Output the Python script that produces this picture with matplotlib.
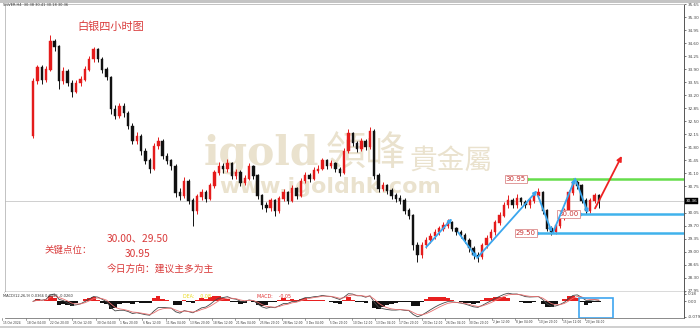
import numpy as np
import matplotlib
matplotlib.use('Agg')
import matplotlib.pyplot as plt
from matplotlib.patches import Rectangle
from matplotlib.transforms import blended_transform_factory

# ---------------- data (12H candles) ----------------
opens = [32.10, 33.57, 33.94, 33.62, 33.89, 34.64, 34.50, 33.57, 33.84, 33.52,
         33.30, 33.52, 33.62, 33.89, 34.16, 34.42, 34.16, 33.89, 33.68, 32.82,
         32.64, 32.90, 32.72, 32.37, 31.97, 32.10, 31.70, 31.44, 31.22, 31.84,
         31.97, 31.57, 31.44, 31.30, 30.58, 30.50, 30.90, 30.37, 30.10, 30.48,
         30.58, 30.42, 30.77, 31.12, 31.30, 31.22, 31.38, 31.04, 31.12, 30.85,
         30.96, 31.28, 31.04, 30.50, 30.24, 30.16, 30.37, 30.10, 30.42, 30.58,
         30.37, 30.69, 30.50, 30.90, 31.04, 30.96, 31.17, 31.22, 31.44, 31.30,
         31.38, 31.22, 31.12, 31.70, 32.18, 31.92, 31.76, 31.97, 31.81, 32.24,
         31.04, 30.69, 30.77, 30.64, 30.50, 30.42, 30.37, 30.10, 29.97, 29.17,
         28.90, 29.17, 29.30, 29.41, 29.52, 29.62, 29.70, 29.78, 29.62, 29.52,
         29.44, 29.30, 29.09, 28.90, 28.85, 29.17, 29.36, 29.52, 29.78, 29.97,
         30.24, 30.37, 30.24, 30.42, 30.32, 30.24, 30.37, 30.50, 30.58, 30.10,
         29.62, 29.52, 29.70, 29.89, 30.10, 30.58, 30.85, 30.77, 30.37, 30.10,
         30.37, 30.50]
highs = [33.66, 34.02, 34.00, 33.98, 34.82, 34.72, 34.55, 33.96, 33.90, 33.60,
         33.60, 33.72, 33.98, 34.25, 34.50, 34.48, 34.22, 33.95, 33.72, 32.95,
         33.00, 32.98, 32.78, 32.45, 32.22, 32.15, 31.78, 31.52, 31.92, 32.08,
         32.02, 31.66, 31.50, 31.35, 30.70, 31.00, 30.95, 30.45, 30.56, 30.68,
         30.65, 30.85, 31.20, 31.40, 31.38, 31.48, 31.42, 31.22, 31.18, 31.06,
         31.38, 31.32, 31.08, 30.56, 30.32, 30.45, 30.42, 30.50, 30.68, 30.62,
         30.78, 30.74, 30.98, 31.14, 31.10, 31.26, 31.32, 31.52, 31.50, 31.46,
         31.42, 31.28, 31.78, 32.30, 32.22, 31.98, 32.06, 32.02, 32.36, 32.28,
         31.10, 30.86, 30.82, 30.70, 30.58, 30.52, 30.44, 30.18, 30.02, 29.25,
         29.26, 29.40, 29.50, 29.60, 29.70, 29.80, 29.88, 29.82, 29.66, 29.58,
         29.50, 29.36, 29.14, 28.98, 29.24, 29.44, 29.60, 29.86, 30.06, 30.34,
         30.52, 30.44, 30.56, 30.48, 30.40, 30.46, 30.58, 30.72, 30.62, 30.15,
         29.70, 29.78, 29.96, 30.18, 30.66, 30.98, 30.92, 30.82, 30.44, 30.45,
         30.58, 30.54]
lows = [32.05, 33.50, 33.50, 33.55, 33.85, 34.38, 33.38, 33.50, 33.45, 33.14,
        33.25, 33.44, 33.58, 33.85, 34.10, 34.08, 33.80, 33.60, 32.70, 32.55,
        32.58, 32.62, 32.28, 31.88, 31.90, 31.60, 31.35, 31.10, 31.18, 31.76,
        31.50, 31.36, 31.20, 30.48, 30.38, 30.45, 30.28, 29.70, 30.02, 30.40,
        30.32, 30.38, 30.72, 31.05, 31.12, 31.15, 30.95, 30.96, 30.76, 30.80,
        30.92, 30.96, 30.42, 30.15, 30.06, 30.10, 29.95, 30.05, 30.36, 30.28,
        30.32, 30.42, 30.46, 30.85, 30.88, 30.92, 31.10, 31.18, 31.22, 31.24,
        31.14, 31.02, 31.08, 31.66, 31.85, 31.68, 31.70, 31.72, 31.76, 30.96,
        30.60, 30.62, 30.55, 30.42, 30.34, 30.28, 30.02, 29.88, 29.05, 28.72,
        28.84, 29.10, 29.24, 29.35, 29.46, 29.56, 29.64, 29.55, 29.44, 29.36,
        29.22, 29.00, 28.80, 28.72, 28.80, 29.10, 29.30, 29.46, 29.72, 29.92,
        30.18, 30.16, 30.18, 30.24, 30.16, 30.18, 30.30, 30.44, 30.02, 29.55,
        29.46, 29.48, 29.64, 29.84, 30.04, 30.52, 30.68, 30.30, 30.02, 30.05,
        30.30, 30.18]
closes = [33.57, 33.94, 33.62, 33.89, 34.64, 34.50, 33.57, 33.84, 33.52, 33.30,
          33.52, 33.62, 33.89, 34.16, 34.42, 34.16, 33.89, 33.68, 32.82, 32.64,
          32.90, 32.72, 32.37, 31.97, 32.10, 31.70, 31.44, 31.22, 31.84, 31.97,
          31.57, 31.44, 31.30, 30.58, 30.50, 30.90, 30.37, 30.10, 30.48, 30.58,
          30.42, 30.77, 31.12, 31.30, 31.22, 31.38, 31.04, 31.12, 30.85, 30.96,
          31.28, 31.04, 30.50, 30.24, 30.16, 30.37, 30.10, 30.42, 30.58, 30.37,
          30.69, 30.50, 30.90, 31.04, 30.96, 31.17, 31.22, 31.44, 31.30, 31.38,
          31.22, 31.12, 31.70, 32.18, 31.92, 31.76, 31.97, 31.81, 32.24, 31.04,
          30.69, 30.77, 30.64, 30.50, 30.42, 30.37, 30.10, 29.97, 29.17, 28.90,
          29.17, 29.30, 29.41, 29.52, 29.62, 29.70, 29.78, 29.62, 29.52, 29.44,
          29.30, 29.09, 28.90, 28.85, 29.17, 29.36, 29.52, 29.78, 29.97, 30.24,
          30.37, 30.24, 30.42, 30.32, 30.24, 30.37, 30.50, 30.58, 30.10, 29.62,
          29.52, 29.70, 29.89, 30.10, 30.58, 30.85, 30.77, 30.37, 30.10, 30.37,
          30.50, 30.36]
last_price = 30.36

key_levels = [30.95, 30.00, 29.50]
level_labels = ['30.95', '30.00', '29.50']
level_colors = ['#66dd4c', '#40b2ec', '#40b2ec']
level_start = [114.4, 126.6, 116.7]          # candle index where each level line begins

# analyst trend lines: (candle index start, price start, candle index end, price end)
trend_lines = [(91.0, 29.12, 97.0, 29.89),
               (98.4, 29.52, 102.8, 28.83),
               (102.8, 28.83, 116.7, 30.64),
               (116.9, 30.50, 120.1, 29.52),
               (120.4, 29.52, 125.5, 30.96),
               (125.5, 30.96, 128.5, 30.03)]
forecast_arrow = (130.1, 30.16, 136.3, 31.57)

price_ticks = [27.95, 28.30, 28.65, 29.00, 29.35, 29.70, 30.05, 30.40, 30.75,
               31.10, 31.45, 31.80, 32.15, 32.50, 32.85, 33.20, 33.55, 33.90,
               34.25, 34.60, 34.95, 35.30, 35.65]
date_labels = ['15 Oct 2024', '18 Oct 04:00', '22 Oct 20:00', '25 Oct 12:00',
               '30 Oct 04:00', '1 Nov 20:00', '6 Nov 12:00', '11 Nov 04:00',
               '13 Nov 20:00', '18 Nov 12:00', '21 Nov 04:00', '25 Nov 20:00',
               '28 Nov 12:00', '3 Dec 04:00', '5 Dec 20:00', '10 Dec 12:00',
               '13 Dec 04:00', '17 Dec 20:00', '20 Dec 12:00', '26 Dec 04:00',
               '30 Dec 20:00', '2 Jan 12:00', '8 Jan 04:00', '10 Jan 20:00',
               '15 Jan 12:00', '20 Jan 04:00']
macd_tick_labels = ['0.18', '0.00', '-0.079']

# ---------------- layout ----------------
W, H = 700, 328
CJK = ['Noto Sans CJK SC', 'DejaVu Sans']
CJK_TC = ['Noto Sans CJK TC', 'DejaVu Sans']
UP, DOWN = '#e41b1b', '#111111'
TXT_RED = '#d93a3a'

fig = plt.figure(figsize=(W / 100, H / 100), dpi=100)
fig.patch.set_facecolor('white')

def fp(px, py):
    return px / W, 1 - py / H

ax = fig.add_axes([5 / W, 1 - 292 / H, 679 / W, 288 / H])
axm = fig.add_axes([5 / W, 1 - 318 / H, 679 / W, 26 / H], sharex=ax)

x0, x1 = -6.5, 150.7
ax.set_xlim(x0, x1)
ax.set_ylim(27.916, 35.596)

n = len(closes)
idx = np.arange(n)
o = np.array(opens); h = np.array(highs); l = np.array(lows); c = np.array(closes)
up = c >= o
cols = np.where(up, UP, DOWN)

# watermark
wm = '#eae2ce'
ax.text(*fp(204, 164), 'igold', transform=fig.transFigure, fontsize=29.5,
        family='DejaVu Serif', weight='bold', color=wm, ha='left', va='baseline', zorder=0.5)
ax.text(*fp(326, 153), '領峰', transform=fig.transFigure, fontsize=29,
        family=CJK_TC, color=wm, ha='left', va='center', zorder=0.5)
ax.text(*fp(410, 161), '貴金屬', transform=fig.transFigure, fontsize=20,
        family=CJK_TC, color=wm, ha='left', va='center', zorder=0.5)
ax.text(*fp(219, 193), 'www.igoldhk.com', transform=fig.transFigure, fontsize=16,
        family='DejaVu Sans', weight='bold', color=wm, ha='left', va='baseline', zorder=0.5)

# current price line
ax.axhline(last_price, color='#cfcfcf', lw=0.7, zorder=1)

# candles
ax.vlines(idx, l, h, colors=cols, lw=0.7, zorder=2)
ax.bar(idx, np.abs(c - o) + 0.01, bottom=np.minimum(o, c), width=0.55,
       color=cols, edgecolor=cols, lw=0.3, zorder=3)

# key levels
for lv, lab, colr, xs in zip(key_levels, level_labels, level_colors, level_start):
    ax.plot([xs, x1], [lv, lv], color=colr, lw=1.8, zorder=4, solid_capstyle='butt')
    ax.plot([xs], [lv], marker='s', ms=2, color=colr, zorder=5)
    ax.text(xs - 0.3, lv, lab, ha='right', va='center', fontsize=5, color='#c83434',
            bbox=dict(boxstyle='square,pad=0.15', fc='white', ec='#dc8c8c', lw=0.6), zorder=6)

# trend lines
for (a0, p0, a1, p1) in trend_lines:
    ax.annotate('', xy=(a1, p1), xytext=(a0, p0),
                arrowprops=dict(arrowstyle='-|>', color='#3aa6ee', lw=1.3,
                                mutation_scale=5, shrinkA=0, shrinkB=0), zorder=6)
fa = forecast_arrow
ax.annotate('', xy=(fa[2], fa[3]), xytext=(fa[0], fa[1]),
            arrowprops=dict(arrowstyle='-|>', color='#ee2222', lw=1.3,
                            mutation_scale=7, shrinkA=0, shrinkB=0), zorder=6)

# axes styling
ax.yaxis.tick_right()
ax.set_yticks(price_ticks)
ax.set_yticklabels(['' if abs(t - last_price) < 0.1 else f'{t:.2f}' for t in price_ticks])
ax.tick_params(axis='y', labelsize=3.0, length=1.5, width=0.5, pad=1.0, colors='#444444')
ax.tick_params(axis='x', bottom=False, labelbottom=False)
for s in ['left', 'top']:
    ax.spines[s].set_color('#b8b8b8'); ax.spines[s].set_linewidth(0.6)
ax.spines['right'].set_color('#555555'); ax.spines['right'].set_linewidth(0.7)
ax.spines['bottom'].set_color('#444444'); ax.spines['bottom'].set_linewidth(1.0)

# price box on the axis
ax.annotate(f'{last_price:.2f}', xy=(1.0, last_price), xycoords=('axes fraction', 'data'),
            xytext=(1.2, 0), textcoords='offset points', ha='left', va='center',
            fontsize=3.0, color='white', zorder=8, annotation_clip=False,
            bbox=dict(boxstyle='square,pad=0.18', fc='black', ec='black', lw=0.3))

# ---------------- MACD panel ----------------
def ema(x, span):
    a = 2.0 / (span + 1)
    out = np.empty_like(x)
    out[0] = x[0]
    for i in range(1, len(x)):
        out[i] = a * x[i] + (1 - a) * out[i - 1]
    return out

FAST, SLOW, SIG = 4, 9, 3      # 12/26/9 on 4H bars ~ 4/9/3 on 12H candles
dif = ema(c, FAST) - ema(c, SLOW)
dea = ema(dif, SIG)
hist = 2 * (dif - dea)

hcols = np.where(hist >= 0, '#e82020', '#111111')
axm.bar(idx, hist, width=1.0, color=hcols, lw=0, zorder=2)
axm.plot(idx, dif, color='#444444', lw=0.6, zorder=3)
axm.plot(idx, dea, color='#e87070', lw=0.6, zorder=3)
allv = np.concatenate([dif, dea, hist])
top = allv.max() * 1.15
bot = allv.min() * 1.08
axm.set_ylim(bot, top)
axm.yaxis.tick_right()
axm.set_yticks([top * 0.8, 0.0, bot * 0.92])
axm.set_yticklabels(macd_tick_labels)
axm.tick_params(axis='y', labelsize=3.0, length=1.5, width=0.5, pad=1.0, colors='#444444')
axm.tick_params(axis='x', bottom=False, labelbottom=False)
for s in ['left', 'top']:
    axm.spines[s].set_visible(False)
axm.spines['right'].set_color('#555555'); axm.spines['right'].set_linewidth(0.7)
axm.spines['bottom'].set_color('#777777'); axm.spines['bottom'].set_linewidth(0.6)

# selection box in MACD panel
axm.add_patch(Rectangle((126.3, bot * 0.97), 7.9, (top - bot) * 0.74, fill=False,
                        ec='#3ea6f0', lw=1.2, zorder=5, transform=axm.transData))

# MACD header texts
axm.text(*fp(3, 296), f'MACD(12,26,9) {dif[-1]:.4f} {dea[-1]:.4f} {hist[-1]:.4f}',
         transform=fig.transFigure, fontsize=2.6, color='#333333', ha='left', va='center')
axm.text(*fp(183, 296), 'DEA:    0.08', transform=fig.transFigure, fontsize=3.4,
         color='#e8d81c', ha='left', va='center')
axm.text(*fp(257, 296), 'MACD:    -0.05', transform=fig.transFigure, fontsize=3.4,
         color='#e03030', ha='left', va='center')

# date labels
LBL_I0, LBL_I1 = -7.1, 127.8
tr = blended_transform_factory(axm.transData, fig.transFigure)
for xi, lab in zip(np.linspace(LBL_I0, LBL_I1, len(date_labels)), date_labels):
    axm.text(xi + 0.2, 1 - 322.5 / H, lab, transform=tr, fontsize=2.1, color='#333333',
             ha='left', va='center', clip_on=False)
    axm.plot([xi, xi], [1 - 318 / H, 1 - 320 / H], transform=tr, color='#555555',
             lw=0.4, clip_on=False)

# header
fig.text(*fp(3, 5), 'SILVER,H4  30.38 30.41 30.18 30.36', fontsize=2.6,
         color='#333333', ha='left', va='center')
fig.patches.append(Rectangle((0, 1 - 2.5 / H), 1, 2.5 / H, transform=fig.transFigure,
                             fc='#c4c4c4', ec='none', zorder=-1))
fig.patches.append(Rectangle((0, 0), 1, 2.0 / H, transform=fig.transFigure,
                             fc='#d0d0d0', ec='none', zorder=-1))

# Chinese annotation texts
fig.text(*fp(77, 27), '白银四小时图', fontsize=8, family=CJK, color=TXT_RED, ha='left', va='center')
fig.text(*fp(107, 238), '30.00、29.50', fontsize=7.4, family=CJK, color=TXT_RED, ha='left', va='center')
fig.text(*fp(45, 250), '关键点位：', fontsize=6.8, family=CJK, color=TXT_RED, ha='left', va='center')
fig.text(*fp(125, 254), '30.95', fontsize=7.4, family=CJK, color=TXT_RED, ha='left', va='center')
fig.text(*fp(107, 269), '今日方向：建议主多为主', fontsize=7, family=CJK, color=TXT_RED,
         ha='left', va='center')

fig.savefig('out.png', dpi=100)
